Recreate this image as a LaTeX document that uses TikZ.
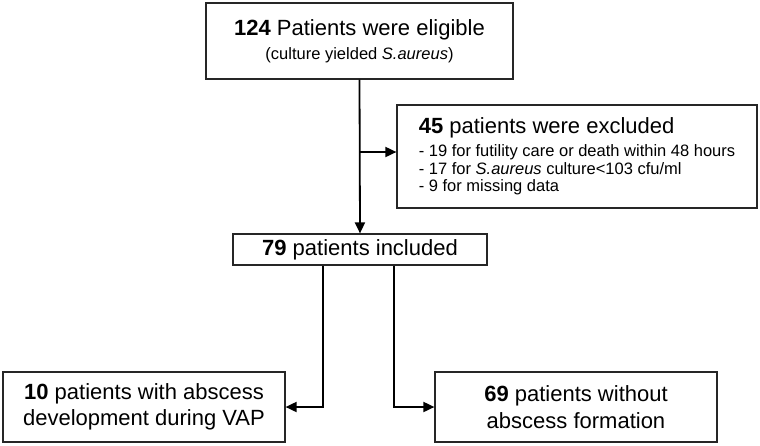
\documentclass[tikz,border=0pt]{standalone}
\usepackage{fontspec}
\setmainfont{Liberation Sans}
\usetikzlibrary{arrows.meta}
\newcommand{\flowlarge}{\fontsize{11}{13.3}\selectfont}
\newcommand{\flowsmall}{\fontsize{8.25}{8.75}\selectfont}
\tikzset{
  flowbox/.style={draw=black!85, line width=0.6pt, inner sep=0pt, align=center, font=\flowlarge},
  flowarrow/.style={line width=0.9pt, -{Triangle[length=5.5pt,width=5pt]}},
}

\begin{document}
\begin{tikzpicture}[x=0.5pt,y=-0.5pt]
\useasboundingbox (0,0) rectangle (760,445);
% boxes
\node[flowbox, minimum width=153.5pt, minimum height=38pt] (eligible) at (359.5,41)
  {\textbf{124} Patients were eligible\\[-1.5pt] \flowsmall (culture yielded \textit{S.aureus})};
\node[flowbox, minimum width=180pt, minimum height=51.5pt, align=left] (excluded) at (577,156.5)
  {\textbf{45} patients were excluded\\[-1.8pt]
   \flowsmall - 19 for futility care or death within 48 hours\\[-4.5pt]
   \flowsmall - 17 for \textit{S.aureus} culture<103 cfu/ml\\[-4.5pt]
   \flowsmall - 9 for missing data};
\node[flowbox, minimum width=127pt, minimum height=15.5pt] (included) at (360,249.5)
  {\textbf{79} patients included};
\node[flowbox, minimum width=141pt, minimum height=35pt] (withabscess) at (144,407)
  {\textbf{10} patients with abscess\\ development during VAP};
\node[flowbox, minimum width=141pt, minimum height=35pt] (noabscess) at (576,407)
  {\textbf{69} patients without\\ abscess formation};
% connectors
\coordinate (branch) at (360,152);
\draw[flowarrow] (eligible.south) -- (included.north);
\draw[flowarrow] (branch) -- (branch -| excluded.west);
\draw[flowarrow] ([xshift=-18.5pt]included.south) |- (withabscess.east);
\draw[flowarrow] ([xshift=17pt]included.south) |- (noabscess.west);
\end{tikzpicture}
\end{document}
